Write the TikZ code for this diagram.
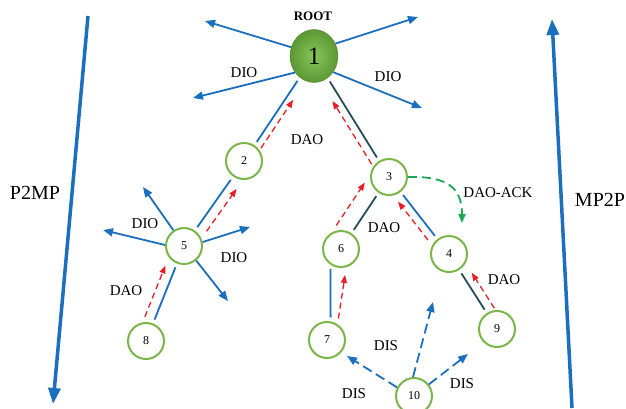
\documentclass[tikz,border=0pt]{standalone}
\usepackage{fontspec}
\setmainfont{Liberation Serif}
\usetikzlibrary{arrows.meta,calc,shapes.geometric}

\definecolor{linkBlue}{RGB}{28,110,190}
\definecolor{linkTeal}{RGB}{38,78,88}
\definecolor{daoRed}{RGB}{232,30,36}
\definecolor{moteGreen}{RGB}{122,182,72}
\definecolor{ackGreen}{RGB}{24,170,80}
\definecolor{rootIn}{RGB}{135,198,90}
\definecolor{rootOut}{RGB}{92,152,52}

\tikzset{
  mote/.style={circle, draw=moteGreen, line width=2pt, minimum size=36pt, inner sep=0pt,
    font=\fontsize{12}{12}\selectfont},
  rootnode/.style={ellipse, minimum width=48pt, minimum height=53pt, inner sep=0pt,
    inner color=rootIn, outer color=rootOut, draw=rootOut!90!black, line width=0.4pt,
    font=\fontsize{25}{25}\selectfont},
  lbl/.style={font=\fontsize{15}{15}\selectfont, inner sep=0pt},
  biglbl/.style={font=\fontsize{20}{20}\selectfont, inner sep=0pt},
  bluelink/.style={draw=linkBlue, line width=1.8pt, shorten <=4pt, shorten >=4pt},
  teallink/.style={draw=linkTeal, line width=1.8pt, shorten <=4pt, shorten >=4pt},
  dio/.style={draw=linkBlue, line width=1.8pt, -{Triangle[length=10pt,width=8pt]}},
  dis/.style={draw=linkBlue, line width=1.8pt, dash pattern=on 10pt off 5pt,
    -{Triangle[length=10pt,width=8pt]}},
  dao/.style={draw=daoRed, line width=1.3pt, dash pattern=on 6pt off 4pt,
    -{Triangle[length=8pt,width=6pt]}},
  ack/.style={draw=ackGreen, line width=1.8pt, dash pattern=on 9pt off 5pt,
    -{Triangle[length=9pt,width=7pt]}},
  flow/.style={draw=linkBlue, line width=3.5pt, -{Triangle[length=16pt,width=12pt]}}
}

% dashed DAO arrow running beside the link from #1 up to #2:
% #3 gap after #1, #4 gap before #2, #5 side offset, #6/#7 side angles
\newcommand\daoarrow[7]{%
  \draw[dao] ($(#1)!#3!(#2)!#5!#6:(#2)$) -- ($(#2)!#4!(#1)!#5!#7:(#1)$);}

\begin{document}
\begin{tikzpicture}[x=1pt,y=-1pt]
\useasboundingbox (0,0) rectangle (626,408);

% motes of the DODAG
\node[rootnode] (n1) at (314,56) {1};
\node[mote] (n2) at (244,161) {2};
\node[mote] (n3) at (389,177) {3};
\node[mote] (n4) at (449,254) {4};
\node[mote] (n5) at (184,246) {5};
\node[mote] (n6) at (341,249) {6};
\node[mote] (n7) at (327,340) {7};
\node[mote] (n8) at (146,341) {8};
\node[mote] (n9) at (497,329) {9};
\node[mote] (n10) at (414,396) {10};

\node[font=\fontsize{13}{13}\selectfont\bfseries] (rootlbl) at (313,16) {ROOT};

% tree links
\draw[bluelink] (n1) -- (n2);
\draw[teallink] (n1) -- (n3);
\draw[bluelink] (n2) -- (n5);
\draw[bluelink] (n5) -- (n8);
\draw[teallink] (n3) -- (n6);
\draw[bluelink] (n3) -- (n4);
\draw[bluelink] (n6.236) -- (n7.79);
\draw[teallink] (n4) -- (n9);

% DAO messages towards the root
\daoarrow{n2}{n1}{20pt}{48pt}{7pt}{-90}{90}
\daoarrow{n3}{n1}{20pt}{48pt}{8pt}{90}{-90}
\daoarrow{n5}{n2}{25pt}{27pt}{10pt}{-90}{90}
\daoarrow{n8}{n5}{22pt}{25pt}{10pt}{90}{-90}
\daoarrow{n6}{n3}{17pt}{18pt}{17pt}{90}{-90}
\daoarrow{n4}{n3}{24pt}{25pt}{8pt}{90}{-90}
\daoarrow{n7}{n6}{23pt}{25pt}{8pt}{-90}{90}
\daoarrow{n9}{n4}{19pt}{28pt}{9pt}{-90}{90}

% DIO broadcast from the root
\coordinate (rA) at (205,21);
\coordinate (rB) at (418,17);
\coordinate (rC) at (193,98);
\coordinate (rD) at (422,108);
\draw[dio] (n1.159) -- (rA);
\draw[dio] (n1.30) -- (rB);
\draw[dio] (n1.221) -- (rC);
\draw[dio] (n1.320) -- (rD);

% DIO broadcast from mote 5
\coordinate (fA) at (143,187);
\coordinate (fB) at (103,230);
\coordinate (fC) at (250,227);
\coordinate (fD) at (228,301);
\draw[dio] (n5.124) -- (fA);
\draw[dio] (n5.177) -- (fB);
\draw[dio] (n5.12) -- (fC);
\draw[dio] (n5.310) -- (fD);

% DIS solicitations from mote 10
\coordinate (sA) at (433,302);
\coordinate (sB) at (347,356);
\coordinate (sC) at (468,354);
\draw[dis] (n10.93) -- (sA);
\draw[dis] (n10.153) -- (sB);
\draw[dis] (n10.38) -- (sC);

% DAO-ACK from 3 to 4
\coordinate (ackEnd) at (462,223);
\draw[ack] (n3.east) .. controls (448,176) and (462,188) .. (ackEnd);

% message labels
\node[lbl] (l1) at (244,73) {DIO};
\node[lbl] (l2) at (388,77) {DIO};
\node[lbl] (l3) at (307,140) {DAO};
\node[lbl] (l4) at (145,224) {DIO};
\node[lbl] (l5) at (234,258) {DIO};
\node[lbl] (l6) at (126,291) {DAO};
\node[lbl] (l7) at (384,228) {DAO};
\node[lbl] (l8) at (498,193) {DAO-ACK};
\node[lbl] (l9) at (504,280) {DAO};
\node[lbl] (l10) at (386,346) {DIS};
\node[lbl] (l11) at (354,394) {DIS};
\node[lbl] (l12) at (462,384) {DIS};

% traffic directions
\coordinate (pTop) at (88,16);
\coordinate (pBot) at (53,404);
\draw[flow] (pTop) -- (pBot);
\node[biglbl] (p2mp) at (35,193) {P2MP};
\coordinate (mBot) at (572,408);
\coordinate (mTop) at (552,19);
\draw[flow] (mBot) -- (mTop);
\node[biglbl] (mp2p) at (600,200) {MP2P};
\end{tikzpicture}
\end{document}
